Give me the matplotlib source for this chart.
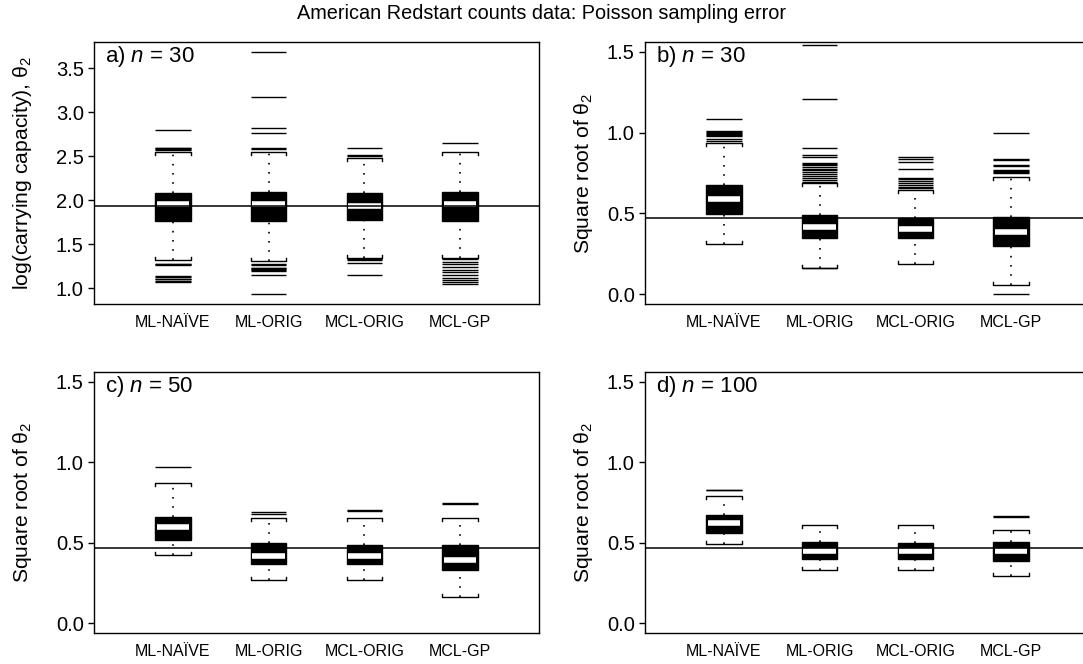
import matplotlib
matplotlib.use("Agg")
import matplotlib.pyplot as plt

plt.rcParams['font.family'] = ['Liberation Sans', 'DejaVu Sans']
plt.rcParams['mathtext.fontset'] = 'custom'
plt.rcParams['mathtext.rm'] = 'Liberation Sans'
plt.rcParams['mathtext.it'] = 'Liberation Sans:italic'

METHODS = ["ML-NAÏVE", "ML-ORIG", "MCL-ORIG", "MCL-GP"]
TITLE = "American Redstart counts data: Poisson sampling error"

# a) log(carrying capacity), n = 30
a_q1 = [1.76, 1.76, 1.77, 1.76]
a_med = [1.955, 1.955, 1.94, 1.955]
a_q3 = [2.08, 2.095, 2.08, 2.095]
a_lo = [1.32, 1.31, 1.34, 1.34]
a_hi = [2.545, 2.545, 2.48, 2.55]
a_out = [
    [2.80, 2.60, 2.59, 2.58, 2.57, 1.28, 1.27, 1.26, 1.14, 1.13, 1.11, 1.10, 1.08, 1.07],
    [3.69, 3.17, 2.82, 2.76, 2.59, 2.58, 1.27, 1.26, 1.235, 1.225, 1.215, 1.205, 1.195, 1.15, 0.93],
    [2.60, 2.52, 2.50, 1.33, 1.32, 1.29, 1.15],
    [2.65, 1.33, 1.30, 1.27, 1.24, 1.21, 1.18, 1.15, 1.12, 1.09, 1.07, 1.05],
]

# b) square root, n = 30
b_q1 = [0.495, 0.345, 0.345, 0.30]
b_med = [0.59, 0.415, 0.405, 0.387]
b_q3 = [0.676, 0.49, 0.474, 0.48]
b_lo = [0.31, 0.163, 0.19, 0.056]
b_hi = [0.933, 0.686, 0.647, 0.725]
b_out = [
    [1.086, 1.012, 1.006, 1.0, 0.992, 0.986, 0.98, 0.958, 0.945],
    [1.54, 1.205, 0.907, 0.861, 0.849, 0.81, 0.805, 0.80, 0.79, 0.776, 0.766, 0.756,
     0.742, 0.73, 0.716, 0.706, 0.696, 0.16],
    [0.849, 0.835, 0.818, 0.773, 0.717, 0.71, 0.70, 0.69, 0.676, 0.666, 0.656],
    [0.995, 0.835, 0.83, 0.80, 0.795, 0.77, 0.765, 0.758, 0.75, 0.0],
]

# c) square root, n = 50
c_q1 = [0.518, 0.369, 0.369, 0.332]
c_med = [0.598, 0.42, 0.42, 0.393]
c_q3 = [0.662, 0.496, 0.488, 0.488]
c_lo = [0.424, 0.27, 0.27, 0.164]
c_hi = [0.871, 0.652, 0.652, 0.656]
c_out = [[0.971], [0.69, 0.678], [0.706, 0.70], [0.746, 0.74]]

# d) square root, n = 100
d_q1 = [0.563, 0.402, 0.402, 0.389]
d_med = [0.625, 0.451, 0.451, 0.451]
d_q3 = [0.672, 0.502, 0.496, 0.502]
d_lo = [0.492, 0.332, 0.332, 0.291]
d_hi = [0.793, 0.609, 0.609, 0.578]
d_out = [[0.83, 0.825], [], [], [0.666, 0.66]]

TRUE_LOGK = 1.93
TRUE_SQRT = 0.47

W_PX, H_PX = 1083, 664
BOXW = 0.373


def draw_panel(ax, q1, med, q3, lo, hi, out, ref, ylim, yticks, ylabel, label, labx):
    ax.set_xlim(0.175, 4.825)
    ax.set_ylim(*ylim)
    # pixel height -> data units for the little bracket ends on the caps
    h_px = ax.get_position().height * H_PX
    dy = 3.0 * (ylim[1] - ylim[0]) / h_px
    for i in range(len(METHODS)):
        x = i + 1
        l, r = x - BOXW / 2, x + BOXW / 2
        ax.plot([x, x], [q3[i], hi[i]], color='black', lw=1.2, ls=(0, (1, 4.5)), zorder=2)
        ax.plot([x, x], [lo[i], q1[i]], color='black', lw=1.2, ls=(0, (1, 4.5)), zorder=2)
        ax.plot([l, l, r, r], [hi[i] - dy, hi[i], hi[i], hi[i] - dy], color='black', lw=1.0, zorder=3)
        ax.plot([l, l, r, r], [lo[i] + dy, lo[i], lo[i], lo[i] + dy], color='black', lw=1.0, zorder=3)
        ax.add_patch(plt.Rectangle((l, q1[i]), BOXW, q3[i] - q1[i], facecolor='black',
                                   edgecolor='black', lw=1.0, zorder=3))
        ax.hlines(med[i], x - BOXW * 0.455, x + BOXW * 0.455, color='white', lw=4, zorder=4)
        if out[i]:
            ax.hlines(out[i], l, r, color='black', lw=1.0, zorder=3)
    ax.axhline(ref, color='black', lw=1.1, zorder=5)

    ax.set_xticks(range(1, len(METHODS) + 1))
    ax.set_xticklabels(METHODS, fontsize=11.5)
    ax.tick_params(axis='x', length=0, pad=8)
    ax.set_yticks(yticks)
    ax.set_yticklabels([f"{v:.1f}" for v in yticks], fontsize=14.5)
    ax.tick_params(axis='y', length=4.3, width=1.0, pad=3)
    ax.set_ylabel(ylabel, fontsize=15.2)
    ax.yaxis.set_label_coords(labx, 0.5)
    ax.text(0.025, 0.943, label, transform=ax.transAxes, fontsize=16, va='center', ha='left')
    for s in ax.spines.values():
        s.set_linewidth(1.0)


fig = plt.figure(figsize=(W_PX / 100, H_PX / 100), dpi=100)
aw = 445 / W_PX
ax_a = fig.add_axes([94 / W_PX, 1 - 304 / H_PX, aw, 262 / H_PX])
ax_b = fig.add_axes([645 / W_PX, 1 - 304 / H_PX, aw, 262 / H_PX])
ax_c = fig.add_axes([94 / W_PX, 1 - 633 / H_PX, aw, 261 / H_PX])
ax_d = fig.add_axes([645 / W_PX, 1 - 633 / H_PX, aw, 261 / H_PX])

sq_label = "Square root of θ$_2$"
sq_ticks = [0.0, 0.5, 1.0, 1.5]
sq_lim = (-0.06, 1.56)

draw_panel(ax_a, a_q1, a_med, a_q3, a_lo, a_hi, a_out, TRUE_LOGK, (0.82, 3.80),
           [1.0, 1.5, 2.0, 2.5, 3.0, 3.5], "log(carrying capacity), θ$_2$",
           r"a) $n$ = 30", -0.135)
draw_panel(ax_b, b_q1, b_med, b_q3, b_lo, b_hi, b_out, TRUE_SQRT, sq_lim, sq_ticks,
           sq_label, r"b) $n$ = 30", -0.112)
draw_panel(ax_c, c_q1, c_med, c_q3, c_lo, c_hi, c_out, TRUE_SQRT, sq_lim, sq_ticks,
           sq_label, r"c) $n$ = 50", -0.135)
draw_panel(ax_d, d_q1, d_med, d_q3, d_lo, d_hi, d_out, TRUE_SQRT, sq_lim, sq_ticks,
           sq_label, r"d) $n$ = 100", -0.112)

fig.text(0.5, 0.980, TITLE, ha='center', va='center', fontsize=14.3)

fig.savefig("out.png", dpi=100)
